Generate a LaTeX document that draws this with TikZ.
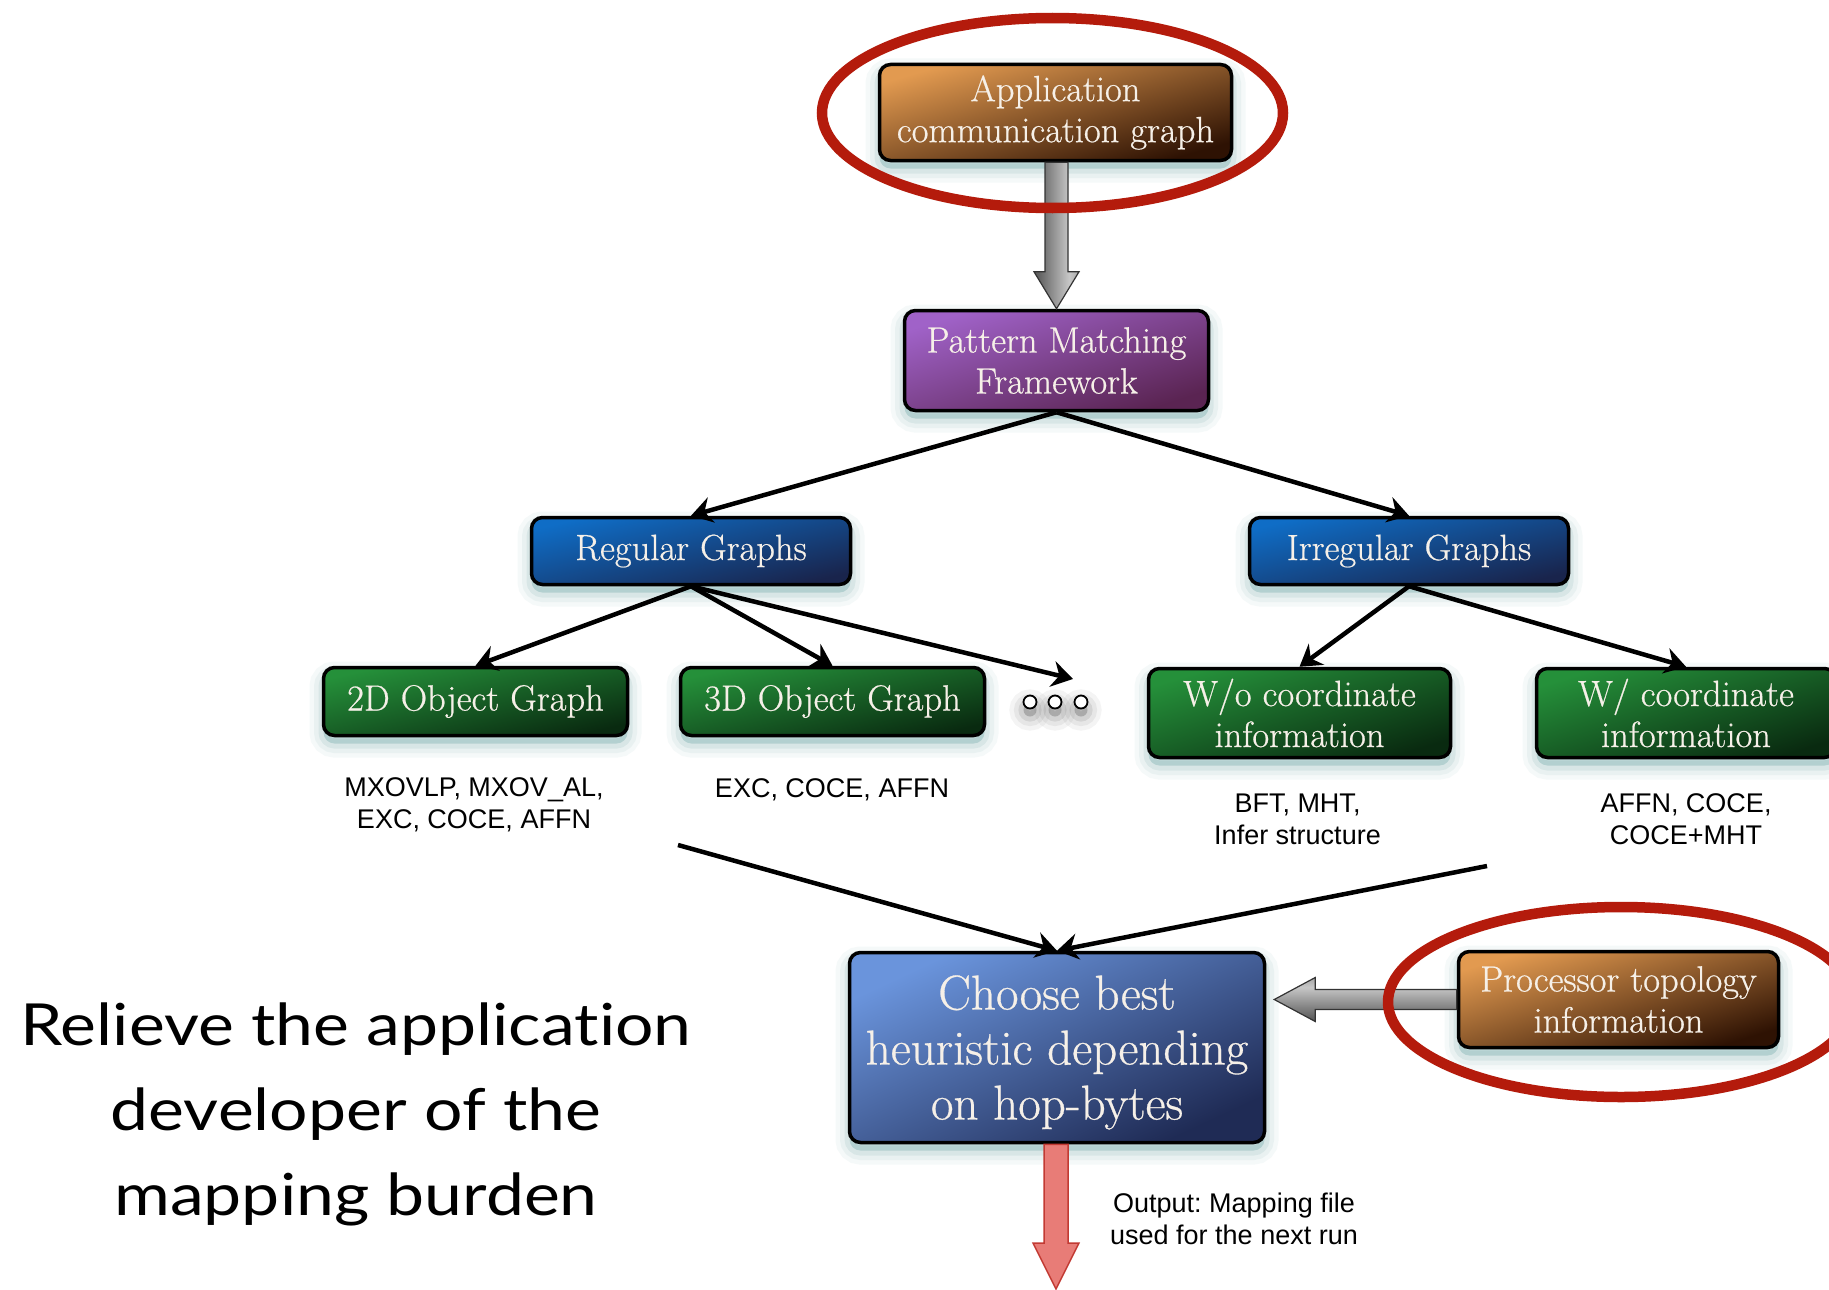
\documentclass[tikz,border=0pt]{standalone}
\usepackage{fontspec}
\setsansfont{Liberation Sans}
\newfontfamily\gillfont{Lato}[FakeStretch=1.17, Ligatures=NoCommon]
\newfontfamily\boxfont{Latin Modern Roman}[FakeBold=0.6]
\usetikzlibrary{arrows.meta,calc}
\frenchspacing

\definecolor{orangeL}{HTML}{E29A50}
\definecolor{orangeD}{HTML}{2E1203}
\definecolor{purpL}{HTML}{A062C8}
\definecolor{purpD}{HTML}{5A2452}
\definecolor{blueL}{HTML}{0F6DC6}
\definecolor{blueD}{HTML}{19244C}
\definecolor{greenL}{HTML}{25903A}
\definecolor{greenD}{HTML}{092A10}
\definecolor{chooseL}{HTML}{6A94DC}
\definecolor{chooseD}{HTML}{1F2B55}
\definecolor{glow}{HTML}{5E9E9E}
\definecolor{ringred}{HTML}{B41B0C}
\definecolor{boxtext}{HTML}{F6F0E8}
\definecolor{outfill}{HTML}{E87C77}
\definecolor{outline}{HTML}{C23A33}

% metallic bar used for the grey block arrows
\pgfdeclarehorizontalshading{graybar}{100bp}{
  color(0bp)=(black!78); color(30bp)=(black!62); color(64bp)=(black!22);
  color(100bp)=(black!62)}

\tikzset{
  % soft teal halo under a box, built from stacked translucent strokes
  halo/.style={
    preaction={draw=#1, line width=28pt, opacity=.06, transform canvas={yshift=-8pt}},
    preaction={draw=#1, line width=19pt, opacity=.08, transform canvas={yshift=-8pt}},
    preaction={draw=#1, line width=10pt, opacity=.12, transform canvas={yshift=-8pt}},
    preaction={fill=#1, opacity=.3, transform canvas={yshift=-8pt}}},
  box/.style={draw=black, line width=3.5pt, rounded corners=11pt, text=boxtext,
    align=center, inner sep=0pt, font=\boxfont\fontsize{36.5}{41}\selectfont, halo=glow},
  orangebox/.style={box, top color=orangeL, bottom color=orangeD, shading angle=#1},
  purplebox/.style={box, top color=purpL, bottom color=purpD, shading angle=18},
  bluebox/.style={box, top color=blueL, bottom color=blueD, shading angle=13},
  greenbox/.style={box, top color=greenL, bottom color=greenD, shading angle=#1},
  choosebox/.style={box, top color=chooseL, bottom color=chooseD, shading angle=25,
    font=\boxfont\fontsize{49}{55}\selectfont},
  link/.style={line width=4.5pt, draw=black,
    -{Stealth[length=21pt, width=26pt, inset=7pt]}},
  note/.style={font=\sffamily\fontsize{27}{32}\selectfont, align=center, inner sep=0pt},
  ring/.style={draw=ringred, line width=10.5pt},
  dotc/.style={circle, draw=black, line width=1.8pt, fill=white, minimum size=13pt,
    inner sep=0pt, halo=black!70},
  fatgrayv/.style={draw=black!80, line width=1.2pt, shading=graybar},
  fatgrayh/.style={draw=black!80, line width=1.2pt, shading=graybar, shading angle=90},
  fatred/.style={draw=outline, line width=1.5pt, fill=outfill},
}

\begin{document}
\begin{tikzpicture}[x=1pt, y=-1pt]
  \useasboundingbox (0,0) rectangle (1829,1290);
  \fill[white] (0,0) rectangle (1829,1290);
  \clip (0,0) rectangle (1829,1290);

  % process boxes
  \node[orangebox=16, minimum width=352pt, minimum height=96pt] (app) at (1055.5,112.5)
    {Application\\communication graph};
  \node[purplebox, minimum width=304pt, minimum height=100pt] (pat) at (1056.5,360.5)
    {Pattern Matching\\Framework};
  \node[bluebox, minimum width=319pt, minimum height=67pt] (reg) at (691,551)
    {Regular Graphs};
  \node[bluebox, minimum width=319pt, minimum height=67pt] (irr) at (1409,551)
    {Irregular Graphs};
  \node[greenbox=13, minimum width=304pt, minimum height=68pt] (d2) at (475.5,701.5)
    {2D Object Graph};
  \node[greenbox=13, minimum width=304pt, minimum height=68pt] (d3) at (832.5,701.5)
    {3D Object Graph};
  \node[greenbox=17, minimum width=302pt, minimum height=89pt] (wo) at (1299.5,713)
    {W/o coordinate\\information};
  \node[greenbox=17, minimum width=299pt, minimum height=89pt] (wc) at (1686,713)
    {W/ coordinate\\information};
  \node[choosebox, minimum width=415pt, minimum height=190pt] (choose) at (1057,1047.5)
    {\rule{0pt}{44pt}Choose best\\heuristic depending\\on hop-bytes};
  \node[orangebox=17, minimum width=320pt, minimum height=96pt] (proc) at (1618.5,999.5)
    {Processor topology\\information};

  % ellipsis after the regular graph kinds
  \node[dotc] (dot1) at (1030,702) {};
  \node[dotc] (dot2) at (1055,702) {};
  \node[dotc] (dot3) at (1081,702) {};
  \coordinate (more) at (1073,679);

  % heuristic lists
  \node[note] (l2d) at (474,805) {MXOVLP, MXOV\_AL,\\EXC, COCE, AFFN};
  \node[note] (l3d) at (832,789.5) {EXC, COCE, AFFN};
  \node[note] (lwo) at (1297.5,819.5) {BFT, MHT,\\Infer structure};
  \node[note] (lwc) at (1686,819.5) {AFFN, COCE,\\COCE+MHT};
  \node[note] (lout) at (1234,1219) {Output: Mapping file\\used for the next run};

  \node[font=\gillfont\fontsize{58}{85}\selectfont, align=center, inner sep=0pt]
    (msg) at (356,1114) {Relieve the application\\developer of the\\mapping burden};

  % loose ends of the lines feeding the selector
  \coordinate (fromreg) at (678,845);
  \coordinate (fromirr) at (1487,866);
  \coordinate (outend) at (1056,1289);

  % tree connectors
  \draw[link] (pat.south) -- (reg.north);
  \draw[link] (pat.south) -- (irr.north);
  \draw[link] (reg.south) -- (d2.north);
  \draw[link] (reg.south) -- (d3.north);
  \draw[link] (reg.south) -- (more);
  \draw[link] (irr.south) -- (wo.north);
  \draw[link] (irr.south) -- (wc.north);
  \draw[link] (fromreg) -- (choose.north);
  \draw[link] (fromirr) -- (choose.north);

  % block arrows
  \path[fatgrayv] let \p1=(app.south), \p2=(pat.north) in
    (\x2-11.5pt,\y1) -- (\x2-11.5pt,\y2+37pt) -- (\x2-22.5pt,\y2+37pt) -- (\x2,\y2)
    -- (\x2+22.5pt,\y2+37pt) -- (\x2+11.5pt,\y2+37pt) -- (\x2+11.5pt,\y1) -- cycle;
  \path[fatgrayh] let \p1=(proc.west), \p2=(choose.east) in
    (\x1,\y1+10pt) -- (\x2+49pt,\y1+10pt) -- (\x2+49pt,\y1+22pt) -- (\x2+8pt,\y1)
    -- (\x2+49pt,\y1-22pt) -- (\x2+49pt,\y1-10pt) -- (\x1,\y1-10pt) -- cycle;
  \path[fatred] let \p1=(choose.south), \p2=(outend) in
    (\x2-12pt,\y1) -- (\x2-12pt,\y2+46pt) -- (\x2-23pt,\y2+46pt) -- (\x2,\y2)
    -- (\x2+23pt,\y2+46pt) -- (\x2+12pt,\y2+46pt) -- (\x2+12pt,\y1) -- cycle;

  % highlight rings
  \draw[ring] (1052.5,113) ellipse [x radius=230.5pt, y radius=95pt];
  \draw[ring] (1621,1002) ellipse [x radius=233pt, y radius=95pt];
\end{tikzpicture}
\end{document}
